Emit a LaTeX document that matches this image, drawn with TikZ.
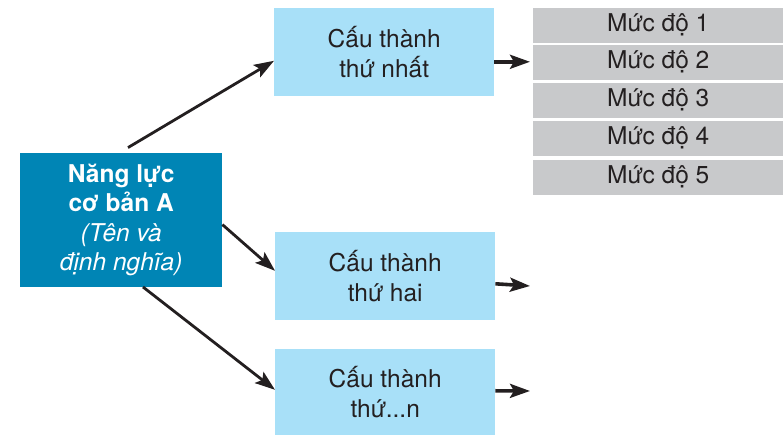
\documentclass[tikz,border=0pt]{standalone}
\usepackage{fontspec}
\setmainfont{TeX Gyre Heros}
\usetikzlibrary{arrows.meta}
\definecolor{mainblue}{HTML}{0085B5}
\definecolor{partblue}{HTML}{A8E0F8}
\definecolor{levelgray}{HTML}{C8C9CB}
\definecolor{inkdark}{HTML}{231F20}
\tikzset{
  box/.style={anchor=south west, inner sep=0pt, align=center},
  mainbox/.style={box, fill=mainblue, text=white, font=\fontsize{24.5}{29.5}\selectfont},
  partbox/.style={box, fill=partblue, text=inkdark, font=\fontsize{24.5}{30}\selectfont},
  levelbox/.style={box, fill=levelgray, text=inkdark, minimum width=250pt, minimum height=35pt, font=\fontsize{24.5}{26}\selectfont},
  link/.style={draw=inkdark, line width=2.8pt, -{Stealth[length=20pt,width=14pt,inset=4pt]}},
  outlink/.style={draw=inkdark, line width=3.6pt, -{Stealth[length=20pt,width=14pt,inset=4pt]}},
}
\begin{document}
\begin{tikzpicture}[x=1pt,y=1pt]
\useasboundingbox (0,0) rectangle (783,435);
% core competency
\node[mainbox, minimum width=202pt, minimum height=134pt] (core) at (20,148)
  {\textbf{Năng lực}\\\textbf{cơ bản A}\\\textit{(Tên và}\\\textit{định nghĩa)}};
% components
\node[partbox, minimum width=220pt, minimum height=88pt] (c1) at (274,339) {Cấu thành\\thứ nhất};
\node[partbox, minimum width=220pt, minimum height=88pt] (c2) at (275,115) {Cấu thành\\thứ hai};
\node[partbox, minimum width=220pt, minimum height=86pt] (c3) at (275,0) {Cấu thành\\thứ...n};
% levels
\node[levelbox] (l1) at (533,392) {Mức độ 1};
\node[levelbox] (l2) at (533,355) {Mức độ 2};
\node[levelbox] (l3) at (533,317) {Mức độ 3};
\node[levelbox] (l4) at (533,279) {Mức độ 4};
\node[levelbox] (l5) at (533,240) {Mức độ 5};
% free ends of the outgoing arrows
\coordinate (e2) at (530,149);
\coordinate (e3) at (530,44);
% connectors
\draw[link] ([xshift=108pt,yshift=5pt]core.north west) -- ([yshift=-9pt]c1.west);
\draw[link] ([yshift=-72pt]core.north east) -- ([yshift=5pt]c2.west);
\draw[link] ([xshift=123pt]core.south west) -- ([yshift=2pt]c3.west);
\draw[outlink] ([yshift=-10pt]c1.east) -- ([yshift=-10pt,xshift=-3pt]c1.east -| l1.west);
\draw[outlink] ([yshift=-8pt]c2.east) -- (e2);
\draw[outlink] ([yshift=1pt]c3.east) -- (e3);
\end{tikzpicture}
\end{document}
